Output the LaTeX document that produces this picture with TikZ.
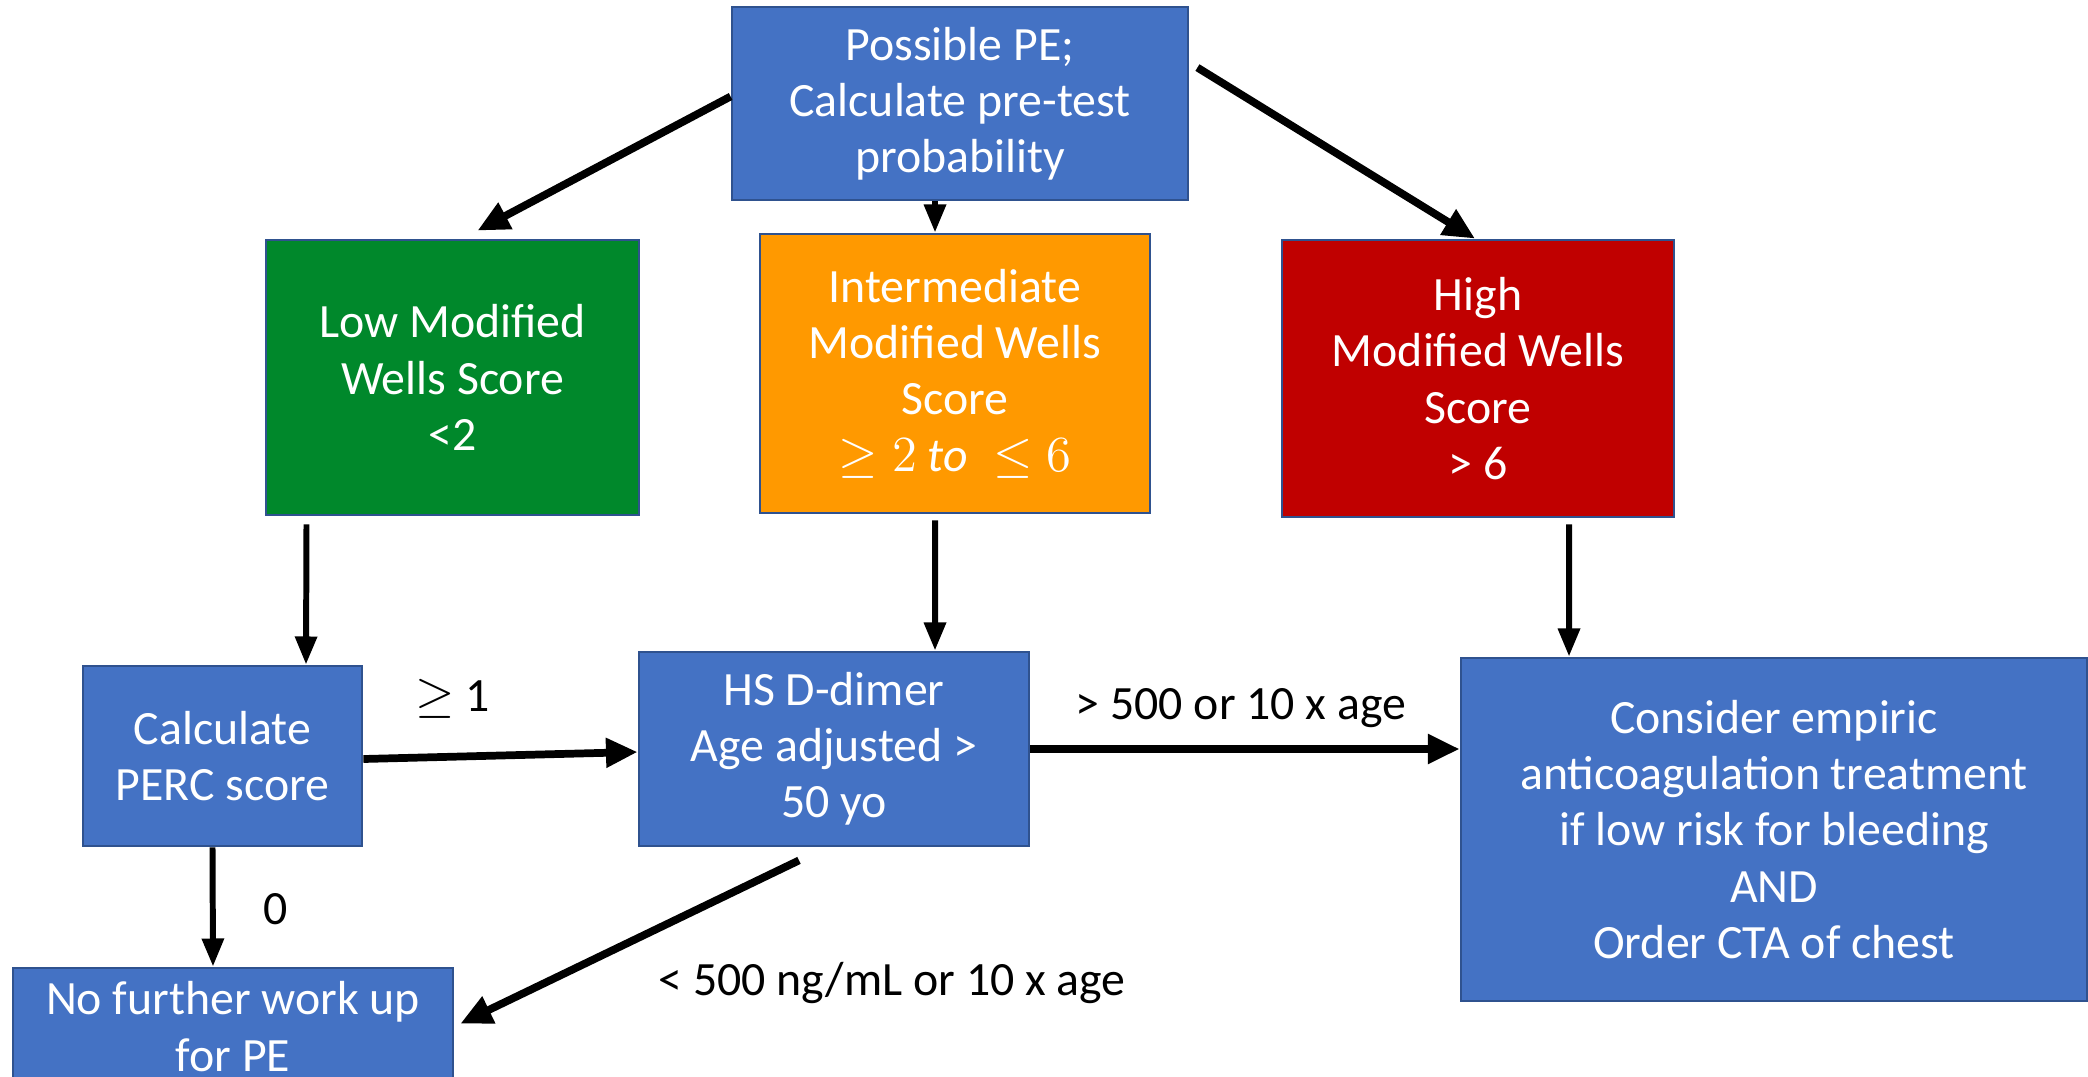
\documentclass[tikz,border=0pt]{standalone}
\usepackage{fontspec}
\setmainfont{Carlito}
\usetikzlibrary{arrows.meta}
\definecolor{boxblue}{HTML}{4472C4}
\definecolor{boxline}{HTML}{2F528F}
\definecolor{lowgreen}{HTML}{00882B}
\definecolor{midorange}{HTML}{FF9900}
\definecolor{highred}{HTML}{C00000}
\begin{document}
\begin{tikzpicture}[
  box/.style={draw=boxline, line width=0.8pt, text=white, align=center, inner sep=0pt,
    font=\fontsize{13.6}{16}\selectfont},
  flow/.style={line width=2.2pt, -{Triangle[length=9pt,width=8pt]}},
  down/.style={line width=1.7pt, -{Triangle[length=8pt,width=6pt]}},
  lbl/.style={font=\fontsize{13.6}{16}\selectfont}]
\useasboundingbox (0,0) rectangle (20.88,10.76);
\node[box, fill=boxblue, minimum width=4.56cm, minimum height=1.93cm] (pe) at (9.60,9.725)
  {Possible PE;\\Calculate pre-test\\probability};
\node[box, fill=lowgreen, minimum width=3.73cm, minimum height=2.75cm] (low) at (4.525,6.985)
  {Low Modified\\Wells Score\\<2};
\node[box, fill=midorange, minimum width=3.90cm, minimum height=2.79cm] (mid) at (9.55,7.025)
  {Intermediate\\Modified Wells\\Score\\$\geq 2\ \mathit{to}\ \leq 6$};
\node[box, fill=highred, minimum width=3.92cm, minimum height=2.77cm] (high) at (14.78,6.975)
  {High\\Modified Wells\\Score\\> 6};
\node[box, fill=boxblue, minimum width=2.79cm, minimum height=1.80cm] (perc) at (2.225,3.20)
  {Calculate\\PERC score};
\node[box, fill=boxblue, minimum width=3.90cm, minimum height=1.94cm] (hs) at (8.34,3.27)
  {HS D-dimer\\Age adjusted >\\50 yo};
\node[box, fill=boxblue, minimum width=6.26cm, minimum height=3.43cm] (treat) at (17.74,2.465)
  {Consider empiric\\anticoagulation treatment\\if low risk for bleeding\\AND\\Order CTA of chest};
\node[box, fill=boxblue, minimum width=4.40cm, minimum height=1.17cm] (none) at (2.33,0.495)
  {No further work up\\for PE};

\draw[flow] ([yshift=0.07cm]pe.west) -- ([shift={(0.25,0.08)}]low.north);
\draw[down] ([xshift=-0.25cm]pe.south) -- ([xshift=-0.2cm]mid.north);
\draw[flow] ([shift={(0.08,-0.62)}]pe.north east) -- ([shift={(-0.03,0)}]high.north);
\draw[down] ([shift={(-1.46,-0.08)}]low.south) -- ([xshift=0.835cm]perc.north);
\draw[down] ([shift={(-0.2,-0.06)}]mid.south) -- ([xshift=1.01cm]hs.north);
\draw[down] ([shift={(0.91,-0.06)}]high.south) -- ([xshift=-2.05cm]treat.north);
\draw[flow] ([yshift=-0.03cm]perc.east) -- ([yshift=-0.03cm]hs.west);
\draw[flow] (hs.east) -- (hs.east -| treat.west);
\draw[down] ([xshift=-0.1cm]perc.south) -- ([xshift=-0.2cm]none.north);
\draw[flow] ([shift={(-0.35,-0.13)}]hs.south) -- ([shift={(0.06,-0.57)}]none.north east);

\node[lbl] (geone) at (4.53,3.77) {$\geq$ 1};
\node[lbl] (above) at (12.41,3.68) {> 500 or 10 x age};
\node[lbl] (zero) at (2.76,1.67) {0};
\node[lbl] (below) at (8.92,0.93) {< 500 ng/mL or 10 x age};
\end{tikzpicture}
\end{document}
